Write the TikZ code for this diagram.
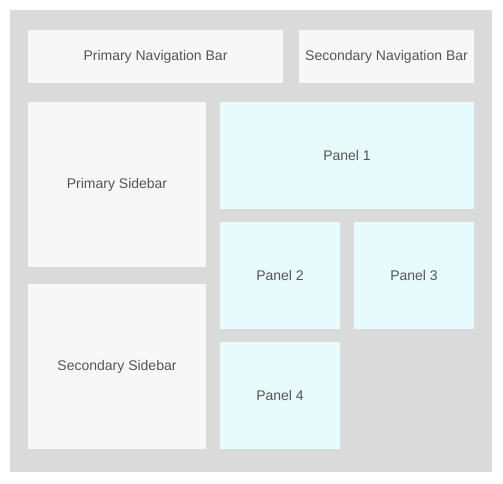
\documentclass[tikz,border=0pt]{standalone}
\usepackage{fontspec}
\setmainfont{Liberation Sans}
\usepackage{tikz}
\usetikzlibrary{positioning}
\usepackage{xcolor}
\definecolor{bgGray}{HTML}{DADADA}
\definecolor{boxGray}{HTML}{F7F7F7}
\definecolor{panelCyan}{HTML}{E8FBFC}
\definecolor{labelGray}{HTML}{555555}

\tikzset{
    region/.style={fill=boxGray, draw=none, inner sep=0pt, outer sep=0pt, text=labelGray,
        font=\fontsize{14}{16}\selectfont},
    panel/.style={region, fill=panelCyan}
}

\begin{document}
\begin{tikzpicture}[x=1pt, y=-1pt]
    \useasboundingbox (0,0) rectangle (503,483);
    \fill[bgGray] (10,10) rectangle (492,472);
    % navigation bars
    \node[region, minimum width=255pt, minimum height=53pt] (primNav) at (155.5,56.5) {Primary Navigation Bar};
    \node[region, minimum width=175pt, minimum height=53pt] (secNav) at (386.5,56.5) {Secondary Navigation Bar};
    % sidebars
    \node[region, minimum width=178pt, minimum height=165pt] (primSide) at (117,184.5) {Primary Sidebar};
    \node[region, minimum width=178pt, minimum height=165pt] (secSide) at (117,366.5) {Secondary Sidebar};
    % panels
    \node[panel, minimum width=254pt, minimum height=107pt] (panelOne) at (347,155.5) {Panel 1};
    \node[panel, minimum width=120pt, minimum height=107pt] (panelTwo) at (280,275.5) {Panel 2};
    \node[panel, minimum width=120pt, minimum height=107pt] (panelThree) at (414,275.5) {Panel 3};
    \node[panel, minimum width=120pt, minimum height=107pt] (panelFour) at (280,395.5) {Panel 4};
\end{tikzpicture}
\end{document}
